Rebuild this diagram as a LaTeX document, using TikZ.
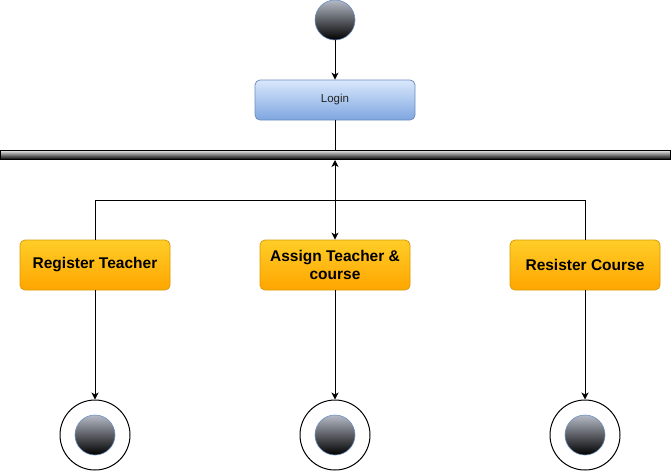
\documentclass[tikz,border=0pt]{standalone}
\usepackage{fontspec}
\setmainfont{Liberation Sans}
\usepackage{tikz}
\usetikzlibrary{arrows.meta}
\usetikzlibrary{calc}

\definecolor{blueTop}{HTML}{DAE8FC}
\definecolor{blueBot}{HTML}{7EA6E0}
\definecolor{blueLine}{HTML}{6C8EBF}
\definecolor{orTop}{HTML}{FFCD28}
\definecolor{orBot}{HTML}{FFA500}
\definecolor{orLine}{HTML}{D79B00}
\definecolor{dotTop}{HTML}{B4BAC6}

\tikzset{
  actbox/.style={rectangle,rounded corners=5pt,draw=orLine,line width=0.8pt,
    top color=orTop,bottom color=orBot,minimum width=150pt,minimum height=50pt,
    align=center,font=\bfseries\fontsize{15.5}{18.5}\selectfont},
  loginbox/.style={rectangle,rounded corners=5pt,draw=blueLine,line width=0.8pt,
    top color=blueTop,bottom color=blueBot,minimum width=160pt,minimum height=40pt,
    text=black!85,font=\fontsize{11.5}{14}\selectfont},
  dot/.style={circle,draw=blueLine,line width=0.6pt,top color=dotTop,bottom color=black,
    minimum size=40pt,inner sep=0pt},
  enddot/.style={circle,draw=black,line width=1pt,fill=white,minimum size=70pt,inner sep=0pt},
  flow/.style={line width=1pt,draw=black}
}

\begin{document}
\begin{tikzpicture}[x=1pt,y=-1pt,>={Stealth[length=7pt,width=7pt,inset=2pt]}]
    \useasboundingbox (0,0) rectangle (671,471);
    % start and login
    \node[dot] (start) at (335,20) {};
    \node[loginbox] (login) at (335,100) {Login};
    % fork bar
    \shade[top color=black!10,bottom color=black,draw=black,line width=1pt]
      (0.5,150.5) rectangle (670.5,159.5);
    \coordinate (barN) at (335,150);
    \coordinate (barS) at (335,160);
    \coordinate (fork) at (335,200.5);
    % activities
    \node[actbox] (reg) at (95,265) {Register Teacher};
    \node[actbox] (assign) at (335,265) {Assign Teacher \&\\course};
    \node[actbox] (res) at (585,265) {Resister Course};
    % end states
    \foreach \n/\x in {endA/95,endB/335,endC/585}{
      \node[enddot] (\n) at (\x,435) {};
      \node[dot] at (\n) {};
    }
    % connectors
    \draw[flow,->] (start)--(login);
    \draw[flow] (login)--(barN);
    \draw[flow,<->] (barS)--(assign);
    \draw[flow] (reg.north) |- (fork) -| (res.north);
    \draw[flow,->] (reg)--(endA);
    \draw[flow,->] (assign)--(endB);
    \draw[flow,->] (res)--(endC);
  \end{tikzpicture}
\end{document}
